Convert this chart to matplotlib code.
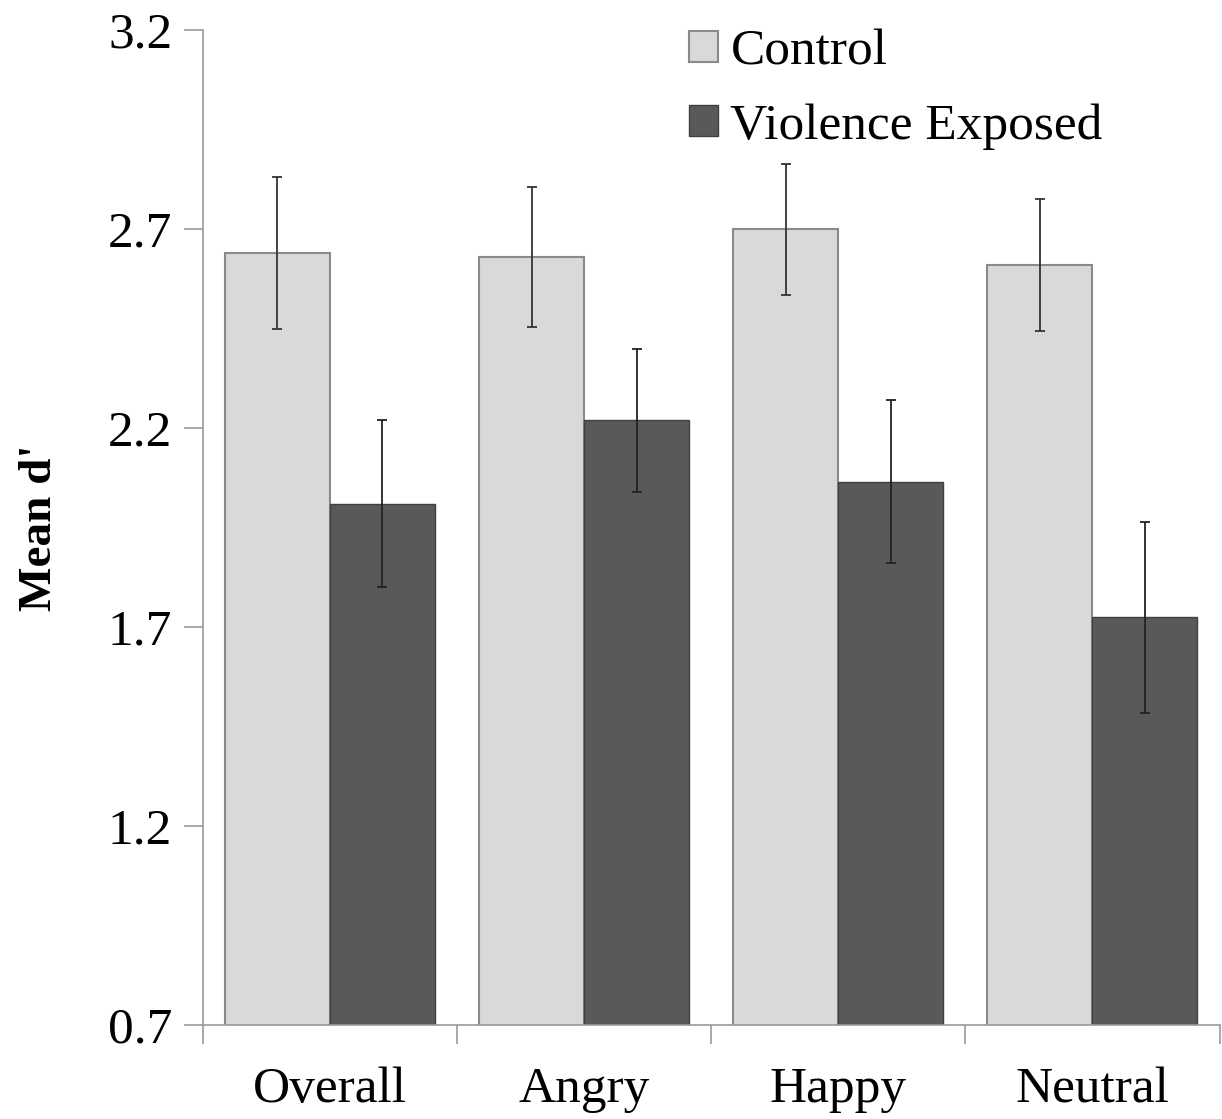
import numpy as np
import matplotlib
matplotlib.use("Agg")
from matplotlib import pyplot as plt

plt.rcParams['font.family'] = ['Liberation Serif', 'DejaVu Serif']

categories = ["Overall", "Angry", "Happy", "Neutral"]
control = [2.64, 2.63, 2.70, 2.61]
control_err = [0.19, 0.175, 0.165, 0.167]
exposed = [2.01, 2.22, 2.065, 1.725]
exposed_err = [0.21, 0.18, 0.205, 0.24]
yticks = [0.7, 1.2, 1.7, 2.2, 2.7, 3.2]

fig = plt.figure(figsize=(12.22, 11.19), dpi=100)
ax = fig.add_axes([0.166, 0.084, 0.832, 0.889])

x = np.arange(len(categories))
w = 0.413
ax.bar(x - w/2, control, w, color='#d9d9d9', edgecolor='#8a8a8a', linewidth=1.5,
       label='Control', zorder=2)
ax.bar(x + w/2, exposed, w, color='#595959', edgecolor='#404040', linewidth=1.0,
       label='Violence Exposed', zorder=2)
ax.errorbar(x - w/2, control, yerr=control_err, fmt='none', ecolor='#333333',
            elinewidth=1.3, capsize=3.5, capthick=1.3, zorder=3)
ax.errorbar(x + w/2, exposed, yerr=exposed_err, fmt='none', ecolor='#222222',
            elinewidth=1.3, capsize=3.5, capthick=1.3, zorder=3)

ax.set_ylim(0.7, 3.2)
ax.set_xlim(-0.5, 3.5)
ax.set_yticks(yticks)
ax.set_yticklabels([f"{v:.1f}" for v in yticks], fontsize=37)
ax.set_xticks(x)
ax.set_xticklabels(categories, fontsize=37)
ax.set_xticks(np.arange(-0.5, 4.0, 1.0), minor=True)
ax.tick_params(axis='x', which='major', length=0, pad=30)
ax.tick_params(axis='x', which='minor', length=14, color='#999999', width=1.2)
ax.tick_params(axis='y', length=14, color='#999999', width=1.2, pad=8)

for s in ['top', 'right']:
    ax.spines[s].set_visible(False)
for s in ['left', 'bottom']:
    ax.spines[s].set_color('#999999')
    ax.spines[s].set_linewidth(1.2)

ax.set_ylabel("Mean d'", fontsize=34, fontweight='bold', labelpad=34)

ax.legend(loc='upper left', bbox_to_anchor=(0.433, 1.048), frameon=False,
          fontsize=37, handlelength=0.55, handleheight=0.55, handletextpad=0.25,
          labelspacing=0.55)

fig.savefig("out.png", dpi=100)
